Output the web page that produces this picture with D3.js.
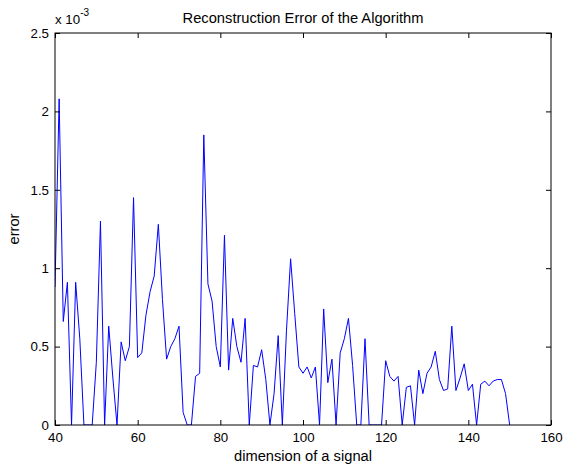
<!DOCTYPE html>
<html>
<head>
<meta charset="utf-8">
<script src="https://cdn.jsdelivr.net/npm/d3@7"></script>
<style>
  body { margin: 0; background: #fff; }
  svg text { font-family: "Liberation Sans", Arial, sans-serif; fill: #000; }
</style>
</head>
<body>
<div id="chart"></div>
<script>
// dimension of the signal (x) and reconstruction error (units of 1e-3)
var dims = d3.range(40, 151);
var errors = [
  0.88, 2.08, 0.66, 0.91, 0, 0.91, 0.55, 0, 0, 0,
  0.40, 1.30, 0, 0.63, 0.30, 0, 0.53, 0.41, 0.50, 1.45,
  0.43, 0.46, 0.70, 0.85, 0.95, 1.28, 0.80, 0.42, 0.50, 0.55,
  0.63, 0.08, 0, 0, 0.31, 0.33, 1.85, 0.90, 0.79, 0.50,
  0.37, 1.21, 0.35, 0.68, 0.50, 0.40, 0.68, 0, 0.38, 0.37,
  0.48, 0.29, 0, 0.20, 0.57, 0, 0.60, 1.06, 0.71, 0.37,
  0.33, 0.37, 0.30, 0.37, 0, 0.74, 0.27, 0.42, 0, 0.46,
  0.55, 0.68, 0.38, 0, 0, 0.55, 0, 0, 0, 0,
  0.41, 0.31, 0.28, 0.31, 0, 0.24, 0.25, 0, 0.35, 0.20,
  0.33, 0.37, 0.47, 0.29, 0.22, 0.23, 0.63, 0.22, 0.30, 0.39,
  0.22, 0.26, 0, 0.26, 0.28, 0.25, 0.28, 0.29, 0.29, 0.20,
  0
];
var xTicks = [40, 60, 80, 100, 120, 140, 160];
var yTicks = [0, 0.5, 1, 1.5, 2, 2.5];

var width = 566, height = 465;
var margin = { top: 33, right: 15, bottom: 40, left: 55 };
var plotW = width - margin.left - margin.right;
var plotH = height - margin.top - margin.bottom;
var tickLen = 5;
var tickFont = "13.3px", labelFont = "14.7px";

var svg = d3.select("#chart").append("svg")
  .attr("width", width)
  .attr("height", height);

var x = d3.scaleLinear().domain([40, 160]).range([0, plotW]);
var y = d3.scaleLinear().domain([0, 2.5]).range([plotH, 0]);

var g = svg.append("g")
  .attr("transform", "translate(" + margin.left + "," + margin.top + ")");

// clip so values at the limit stay inside the box
g.append("clipPath").attr("id", "plotclip")
  .append("rect").attr("width", plotW).attr("height", plotH);

var line = d3.line()
  .x(function(d, i) { return x(dims[i]); })
  .y(function(d) { return y(d); });

g.append("path")
  .datum(errors)
  .attr("clip-path", "url(#plotclip)")
  .attr("d", line)
  .style("fill", "none")
  .style("stroke", "#0000ff")
  .style("stroke-width", 1);

// axes, matlab style: ticks inside, on all four sides
var bottomAx = d3.axisBottom(x).tickValues(xTicks).tickSizeInner(-tickLen).tickSizeOuter(0).tickPadding(8);
var topAx = d3.axisTop(x).tickValues(xTicks).tickSizeInner(-tickLen).tickSizeOuter(0).tickFormat("");
var leftAx = d3.axisLeft(y).tickValues(yTicks).tickSizeInner(-tickLen).tickSizeOuter(0).tickPadding(6)
  .tickFormat(function(d) { return d; });
var rightAx = d3.axisRight(y).tickValues(yTicks).tickSizeInner(-tickLen).tickSizeOuter(0).tickFormat("");

function styleAxis(sel) {
  sel.select(".domain").remove();
  sel.selectAll("line").style("stroke", "#000");
  sel.selectAll("text").style("font-size", tickFont).style("font-family", "Liberation Sans, Arial, sans-serif");
}

g.append("g").attr("transform", "translate(0," + plotH + ")").call(bottomAx).call(styleAxis);
g.append("g").call(topAx).call(styleAxis);
g.append("g").call(leftAx).call(styleAxis);
g.append("g").attr("transform", "translate(" + plotW + ",0)").call(rightAx).call(styleAxis);

// box
g.append("rect")
  .attr("width", plotW)
  .attr("height", plotH)
  .style("fill", "none")
  .style("stroke", "#000")
  .style("stroke-width", 1);

// exponent label
var expo = g.append("text")
  .attr("x", 0)
  .attr("y", -9)
  .style("font-size", tickFont);
expo.append("tspan").text("x 10");
expo.append("tspan").attr("dy", -8).style("font-size", "10px").text("-3");

// title
svg.append("text")
  .attr("x", margin.left + plotW / 2)
  .attr("y", 23)
  .attr("text-anchor", "middle")
  .style("font-size", labelFont)
  .text("Reconstruction Error of the Algorithm");

// x label
svg.append("text")
  .attr("x", margin.left + plotW / 2)
  .attr("y", 461)
  .attr("text-anchor", "middle")
  .style("font-size", labelFont)
  .text("dimension of a signal");

// y label
svg.append("text")
  .attr("transform", "translate(19," + (margin.top + plotH / 2) + ") rotate(-90)")
  .attr("text-anchor", "middle")
  .style("font-size", labelFont)
  .text("error");
</script>
</body>
</html>
